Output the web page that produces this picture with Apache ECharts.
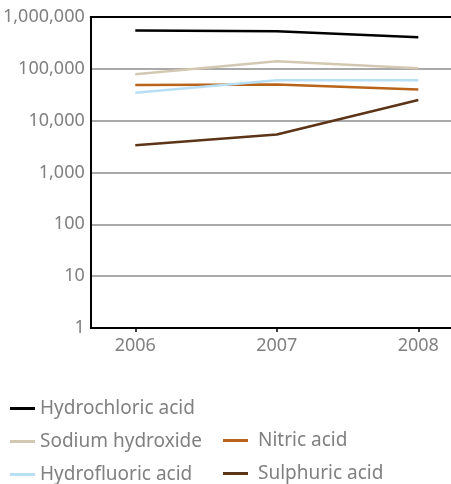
<!DOCTYPE html>
<html>
<head>
<meta charset="utf-8">
<script src="https://cdn.jsdelivr.net/npm/echarts@6/dist/echarts.min.js"></script>
<style>
html,body{margin:0;padding:0;background:#fff;}
#c{width:451px;height:484px;}
</style>
</head>
<body>
<div id="c"></div>
<script>
var years = [2006, 2007, 2008];
var seriesNames = ['Hydrochloric acid', 'Sodium hydroxide', 'Nitric acid', 'Hydrofluoric acid', 'Sulphuric acid'];
var hydrochloric = [546000, 531000, 406000];
var sodiumHydroxide = [79000, 140000, 103000];
var nitric = [49000, 50000, 40000];
var hydrofluoric = [34500, 60500, 60000];
var sulphuric = [3350, 5400, 25000];
var yTicks = [1, 10, 100, 1000, 10000, 100000, 1000000];
var colors = ['#000000', '#d4c8b2', '#b8651b', '#b9dff5', '#5c3417'];

var allValues = [hydrochloric, sodiumHydroxide, nitric, hydrofluoric, sulphuric];
function pairs(vals){ return years.map(function(y,i){ return [y, vals[i]]; }); }
function fmt(v){ return String(Math.round(v)).replace(/\B(?=(\d{3})+(?!\d))/g, ','); }

var FONT = 'Noto Sans';
var TXT = '#808080';

var chart = echarts.init(document.getElementById('c'), null, {renderer:'canvas'});
chart.setOption({
  animation: false,
  backgroundColor: '#fff',
  grid: {left: 87, right: 0, top: 17, bottom: 156, containLabel: false},
  xAxis: [{
    type: 'value',
    min: 2005.685, max: 2008.231,
    axisLine: {show: true, lineStyle: {color: '#000', width: 2}},
    axisTick: {show: true, customValues: years, length: 4, inside: false, lineStyle: {color: '#000', width: 1.5}},
    axisLabel: {show: true, customValues: years, color: TXT, fontFamily: FONT, fontSize: 18, margin: 9,
      formatter: function(v){ return String(v); }},
    splitLine: {show: false}
  }, {
    type: 'value', position: 'top',
    min: 2005.685, max: 2008.231,
    axisLine: {show: true, onZero: false, lineStyle: {color: '#000', width: 2}},
    axisTick: {show: false}, axisLabel: {show: false}, splitLine: {show: false}
  }],
  yAxis: {
    type: 'log', logBase: 10, min: 1, max: 1000000,
    axisLine: {show: true, lineStyle: {color: '#000', width: 2}},
    axisTick: {show: false},
    axisLabel: {color: TXT, fontFamily: FONT, fontSize: 18, margin: 6, formatter: function(v){ return fmt(v); }},
    splitLine: {show: true, lineStyle: {color: '#a9a9a9', width: 2}}
  },
  legend: [{
    orient: 'vertical', left: 10, top: 399, padding: 0, height: 90,
    data: [seriesNames[0], seriesNames[1], seriesNames[3]],
    icon: 'rect', itemWidth: 25, itemHeight: 3, itemGap: 14,
    textStyle: {color: TXT, fontFamily: FONT, fontSize: 19, lineHeight: 18}
  }, {
    orient: 'vertical', left: 223, top: 431, padding: 0, height: 60,
    data: [seriesNames[2], seriesNames[4]],
    icon: 'rect', itemWidth: 25, itemHeight: 3, itemGap: 14,
    textStyle: {color: TXT, fontFamily: FONT, fontSize: 19, lineHeight: 18, padding: [0, 0, 0, 5]}
  }],
  series: seriesNames.map(function(n, i){
    return {
      name: n, type: 'line', xAxisIndex: 0,
      data: pairs(allValues[i]),
      showSymbol: false, symbol: 'none',
      color: colors[i],
      lineStyle: {color: colors[i], width: 2.5}
    };
  })
});
</script>
</body>
</html>
